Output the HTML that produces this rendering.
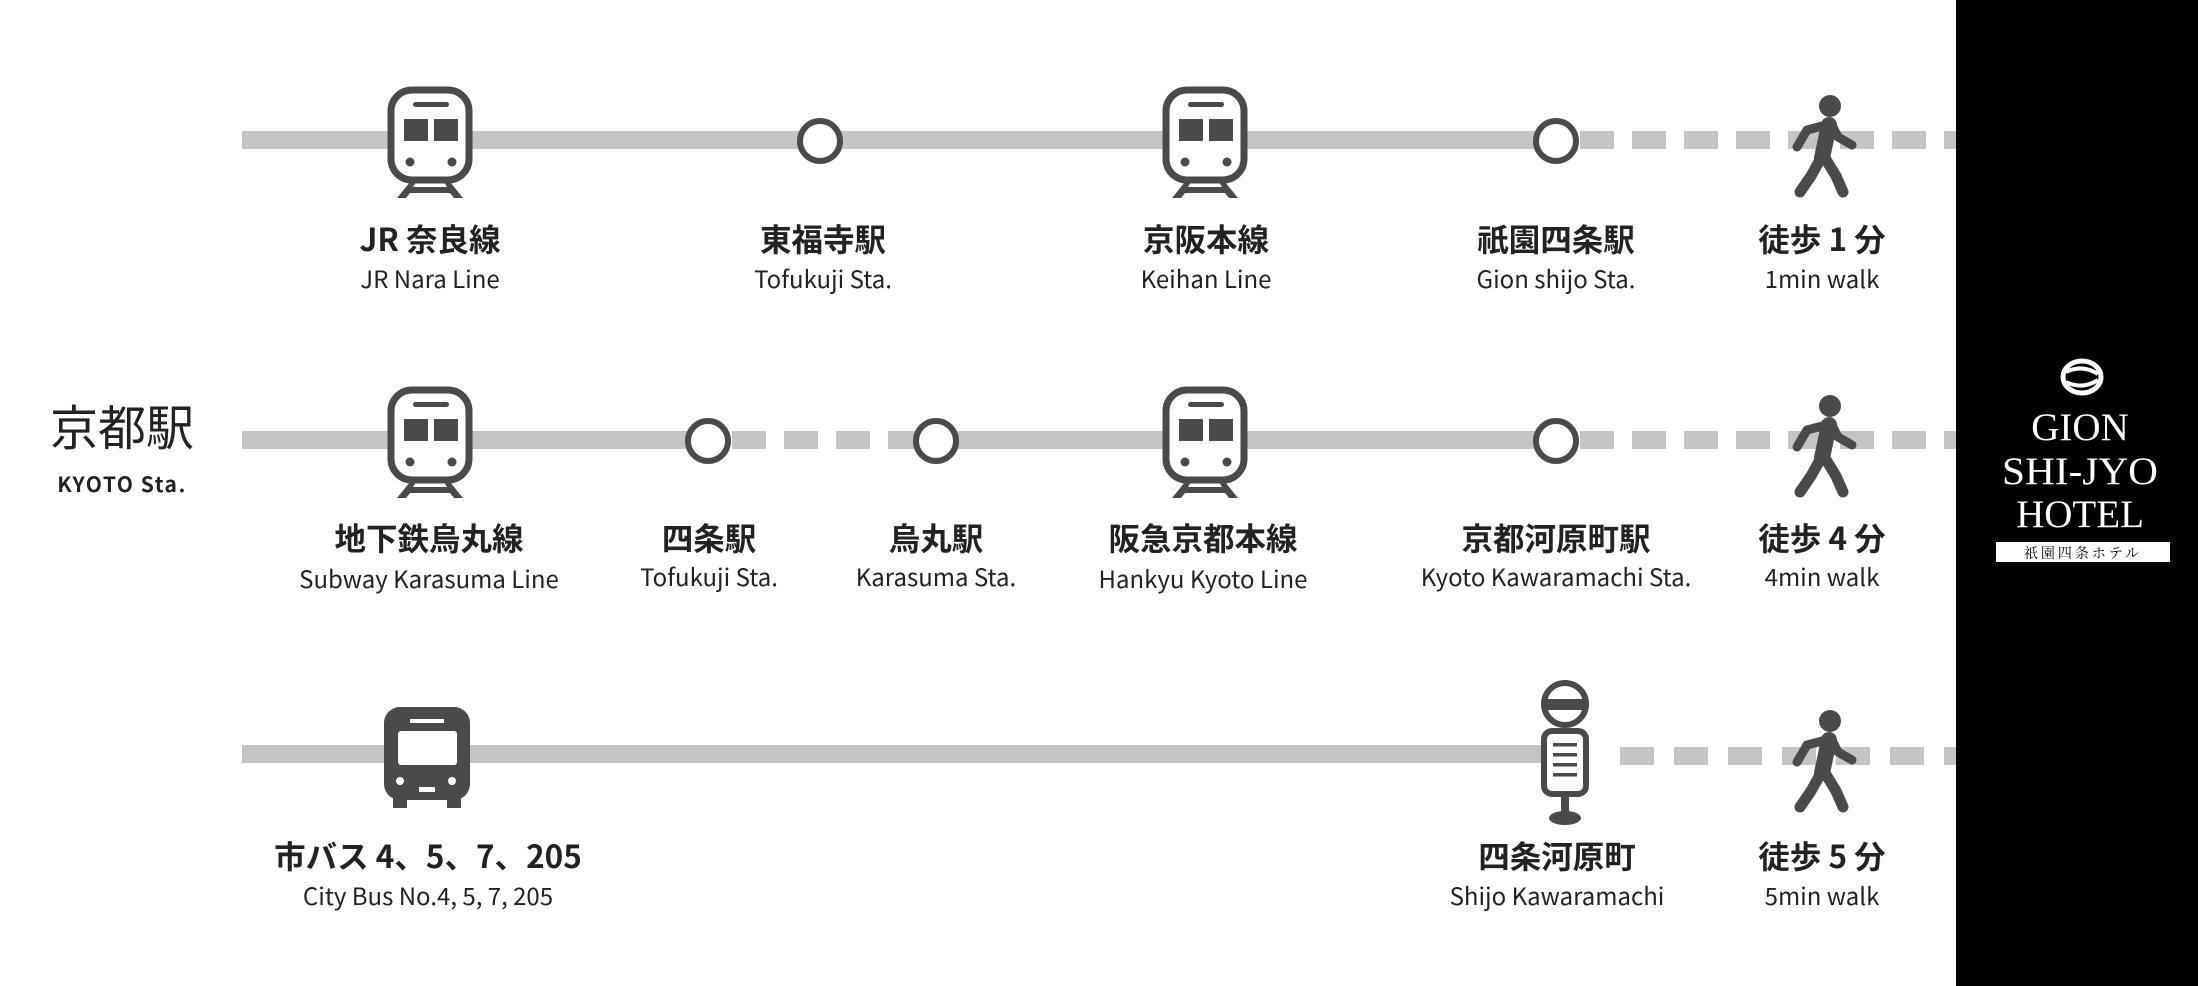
<!DOCTYPE html>
<html><head><meta charset="utf-8"><style>
html,body{margin:0;padding:0;background:#fff;}
svg{display:block}
.jp{font-family:"Noto Sans CJK JP","Liberation Sans",sans-serif;font-weight:bold;font-size:31.5px;fill:#222;text-anchor:middle}
.en{font-family:"Noto Sans CJK JP","Liberation Sans",sans-serif;font-size:24px;fill:#222;text-anchor:middle}
</style></head><body>
<svg width="2198" height="986" viewBox="0 0 2198 986" xmlns="http://www.w3.org/2000/svg">
<defs>
<g id="train">
 <rect x="-39" y="-50" width="78" height="90" rx="21" fill="#fff" stroke="#4a4a4a" stroke-width="7"/>
 <rect x="-17" y="-38" width="36" height="5" rx="2.5" fill="#4a4a4a"/>
 <rect x="-26" y="-21" width="24" height="22" fill="#4a4a4a"/>
 <rect x="4" y="-21" width="24" height="22" fill="#4a4a4a"/>
 <circle cx="-20" cy="22" r="4.5" fill="#4a4a4a"/>
 <circle cx="22" cy="22" r="4.5" fill="#4a4a4a"/>
 <path d="M-20 42 L-33 58 L-24 58 L-20 53 L20 53 L24 58 L33 58 L20 42 L14 42 L17 47 L-17 47 L-14 42Z" fill="#4a4a4a"/>
</g>
<g id="walk" fill="none" stroke="#4a4a4a" stroke-linecap="round" stroke-linejoin="round">
 <circle cx="1830" cy="721" r="11" fill="#4a4a4a" stroke="none"/>
 <path d="M1829 740 L1822 773" stroke-width="16"/>
 <path d="M1826 740 L1807 745 L1797 762" stroke-width="9"/>
 <path d="M1832 740 L1838 752 L1852 760" stroke-width="9"/>
 <path d="M1821 773 L1811 791 L1800 807" stroke-width="11"/>
 <path d="M1825 773 L1836 791 L1843 807" stroke-width="11"/>
</g>
</defs>

<line x1="242" y1="140" x2="1556" y2="140" stroke="#c4c4c4" stroke-width="18"/>
<line x1="1580" y1="140" x2="1956" y2="140" stroke="#c4c4c4" stroke-width="18" stroke-dasharray="34 18"/>
<use href="#train" transform="translate(430,140)"/>
<use href="#train" transform="translate(1205,140)"/>
<circle cx="820" cy="141" r="20" fill="#fff" stroke="#4a4a4a" stroke-width="6"/>
<circle cx="1556" cy="141" r="20" fill="#fff" stroke="#4a4a4a" stroke-width="6"/>
<use href="#walk" transform="translate(0,-615)"/>
<text class="jp" x="430" y="251">JR 奈良線</text><text class="en" x="430" y="288">JR Nara Line</text>
<text class="jp" x="823" y="251">東福寺駅</text><text class="en" x="823" y="288">Tofukuji Sta.</text>
<text class="jp" x="1206" y="251">京阪本線</text><text class="en" x="1206" y="288">Keihan Line</text>
<text class="jp" x="1556" y="251">祇園四条駅</text><text class="en" x="1556" y="288">Gion shijo Sta.</text>
<text class="jp" x="1822" y="251">徒歩 1 分</text><text class="en" x="1822" y="288">1min walk</text>

<text x="122" y="445" font-family="'Noto Sans CJK JP',sans-serif" font-size="48" fill="#222" text-anchor="middle">京都駅</text>
<text x="122" y="492" font-family="'Noto Sans CJK JP','Liberation Sans',sans-serif" font-weight="bold" font-size="21" letter-spacing="1.5" fill="#222" text-anchor="middle">KYOTO Sta.</text>
<line x1="242" y1="440" x2="708" y2="440" stroke="#c4c4c4" stroke-width="18"/>
<line x1="732" y1="440" x2="936" y2="440" stroke="#c4c4c4" stroke-width="18" stroke-dasharray="34 18"/>
<line x1="936" y1="440" x2="1556" y2="440" stroke="#c4c4c4" stroke-width="18"/>
<line x1="1580" y1="440" x2="1956" y2="440" stroke="#c4c4c4" stroke-width="18" stroke-dasharray="34 18"/>
<use href="#train" transform="translate(430,440)"/>
<use href="#train" transform="translate(1205,440)"/>
<circle cx="708" cy="441" r="20" fill="#fff" stroke="#4a4a4a" stroke-width="6"/>
<circle cx="936" cy="441" r="20" fill="#fff" stroke="#4a4a4a" stroke-width="6"/>
<circle cx="1556" cy="441" r="20" fill="#fff" stroke="#4a4a4a" stroke-width="6"/>
<use href="#walk" transform="translate(0,-315)"/>
<text class="jp" x="429" y="550">地下鉄烏丸線</text><text class="en" x="429" y="588">Subway Karasuma Line</text>
<text class="jp" x="709" y="550">四条駅</text><text class="en" x="709" y="586">Tofukuji Sta.</text>
<text class="jp" x="936" y="550">烏丸駅</text><text class="en" x="936" y="586">Karasuma Sta.</text>
<text class="jp" x="1203" y="550">阪急京都本線</text><text class="en" x="1203" y="588">Hankyu Kyoto Line</text>
<text class="jp" x="1556" y="550">京都河原町駅</text><text class="en" x="1556" y="586">Kyoto Kawaramachi Sta.</text>
<text class="jp" x="1822" y="550">徒歩 4 分</text><text class="en" x="1822" y="586">4min walk</text>

<line x1="242" y1="754" x2="1556" y2="754" stroke="#c4c4c4" stroke-width="18"/>
<line x1="1620" y1="756" x2="1956" y2="756" stroke="#c4c4c4" stroke-width="18" stroke-dasharray="34 20"/>
<g fill="#4a4a4a">
 <rect x="384" y="707" width="86" height="93" rx="16"/>
 <rect x="393" y="790" width="14" height="18"/>
 <rect x="447" y="790" width="14" height="18"/>
</g>
<g fill="#fff">
 <rect x="398" y="731" width="59" height="34" rx="3"/>
 <rect x="410" y="719" width="34" height="4"/>
 <circle cx="400" cy="781" r="4"/><circle cx="452" cy="781" r="4"/>
 <rect x="419" y="787" width="16" height="5"/>
</g>
<g>
 <circle cx="1565" cy="704" r="21" fill="#fff" stroke="#4a4a4a" stroke-width="6"/>
 <rect x="1544" y="699" width="42" height="11" fill="#4a4a4a"/>
 <rect x="1544" y="731" width="42" height="63" rx="8" fill="#fff" stroke="#4a4a4a" stroke-width="6"/>
 <rect x="1553" y="743" width="24" height="3.5" fill="#4a4a4a"/>
 <rect x="1553" y="753" width="24" height="3.5" fill="#4a4a4a"/>
 <rect x="1553" y="763" width="24" height="3.5" fill="#4a4a4a"/>
 <rect x="1553" y="773" width="24" height="3.5" fill="#4a4a4a"/>
 <rect x="1561" y="797" width="8" height="17" fill="#4a4a4a"/>
 <ellipse cx="1565" cy="818" rx="16" ry="7" fill="#4a4a4a"/>
</g>
<use href="#walk"/>
<text class="jp" x="428" y="868">市バス 4、5、7、205</text><text class="en" x="428" y="905">City Bus No.4, 5, 7, 205</text>
<text class="jp" x="1557" y="868">四条河原町</text><text class="en" x="1557" y="905">Shijo Kawaramachi</text>
<text class="jp" x="1822" y="868">徒歩 5 分</text><text class="en" x="1822" y="905">5min walk</text>

<rect x="1956" y="0" width="242" height="986" fill="#000"/>
<g fill="none" stroke="#fff">
 <ellipse cx="2082" cy="377" rx="19" ry="16" stroke-width="5"/>
 <path d="M2066 372 Q2082 364 2098 374" stroke-width="4"/>
 <path d="M2066 382 Q2082 390 2098 380" stroke-width="4"/>
</g>
<g font-family="'Liberation Serif',serif" font-size="39" fill="#fff" text-anchor="middle">
 <text x="2080" y="440">GION</text>
 <text x="2080" y="484" textLength="156" lengthAdjust="spacingAndGlyphs">SHI-JYO</text>
 <text x="2080" y="527">HOTEL</text>
</g>
<rect x="1996" y="542" width="174" height="20" fill="#fff"/>
<text x="2083" y="558" font-family="'Noto Serif CJK SC','Liberation Serif',serif" font-size="14" letter-spacing="3" fill="#000" text-anchor="middle">祇園四条ホテル</text>
</svg>
</body></html>
